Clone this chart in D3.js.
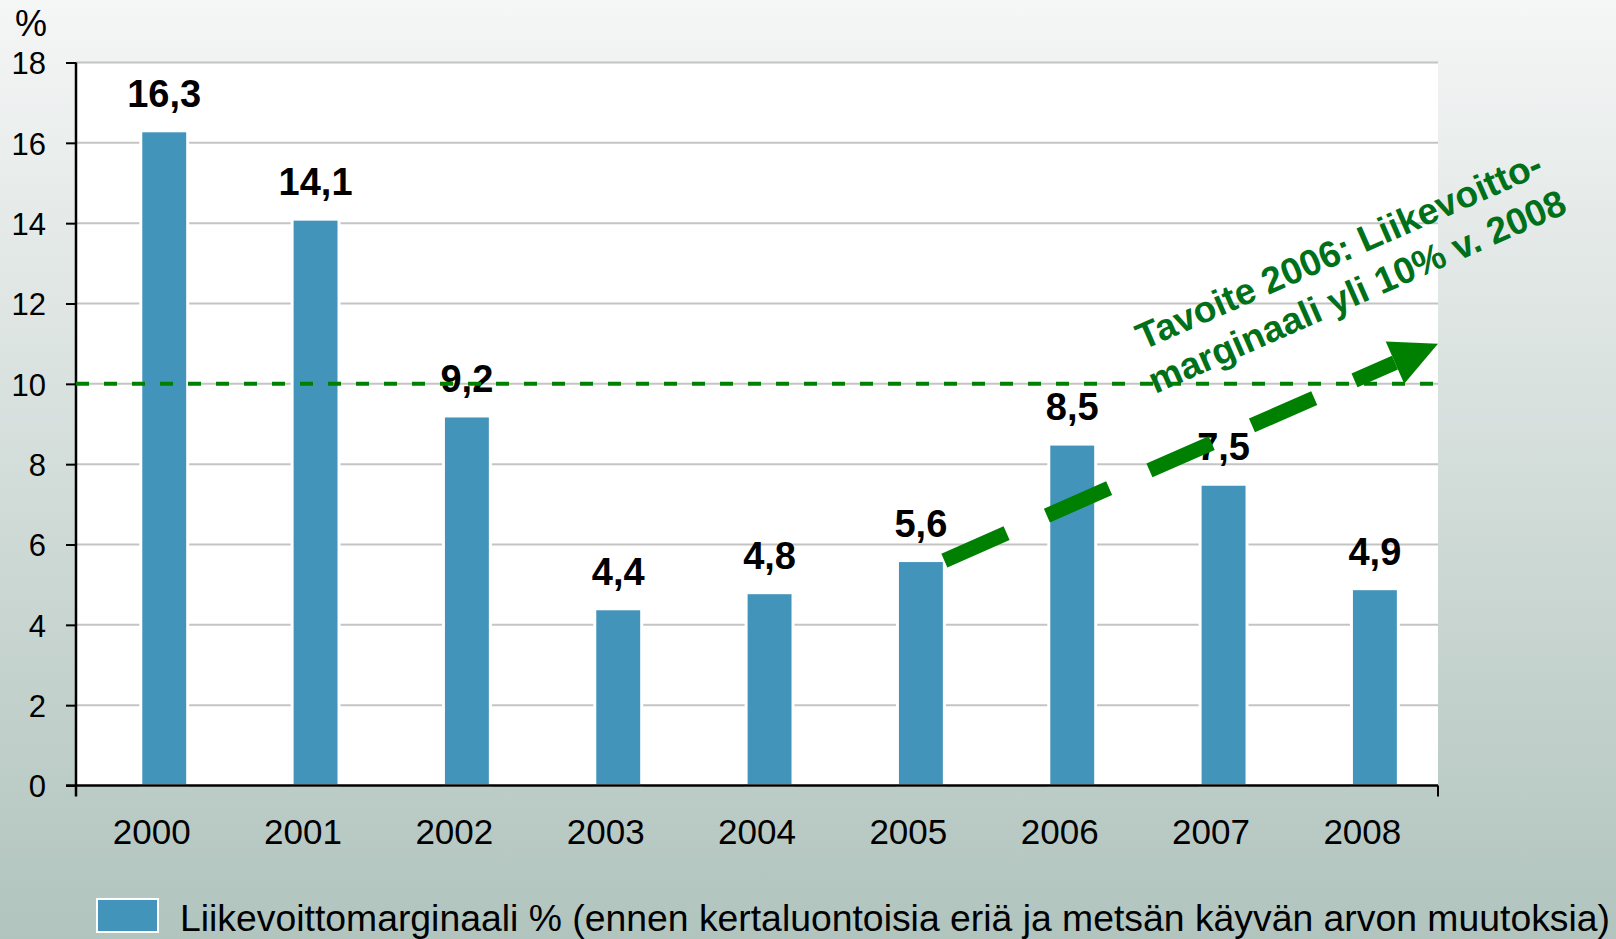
<!DOCTYPE html>
<html>
<head>
<meta charset="utf-8">
<script src="https://cdn.jsdelivr.net/npm/d3@7"></script>
<style>
  body { margin: 0; }
  svg { display: block; font-family: "Liberation Sans", Arial, sans-serif; }
</style>
</head>
<body>
<script>
var years = ["2000", "2001", "2002", "2003", "2004", "2005", "2006", "2007", "2008"],
    margins = [16.3, 14.1, 9.2, 4.4, 4.8, 5.6, 8.5, 7.5, 4.9],
    yTicks = [0, 2, 4, 6, 8, 10, 12, 14, 16, 18],
    targetValue = 10,
    arrowFrom = ["2005", 5.6],   // arrow starts at top of this bar
    arrowToValue = 11,           // and ends at the right edge at this level
    noteLines = ["Tavoite 2006: Liikevoitto-", "marginaali yli 10% v. 2008"],
    legendLabel = "Liikevoittomarginaali % (ennen kertaluontoisia eriä ja metsän käyvän arvon muutoksia)";

var svgWidth = 1616,
    svgHeight = 939,
    plotLeft = 76,
    plotRight = 1438,
    plotTop = 62.5,
    plotBottom = 785.5,
    barColor = "#4394bb",
    green = "#008000",
    fontFam = "'Liberation Sans', Arial, sans-serif";

var fmt = function(v) { return d3.format(".1f")(v).replace(".", ","); };

var svg = d3.select("body").append("svg")
    .attr("width", svgWidth)
    .attr("height", svgHeight);

// background gradient
var grad = svg.append("defs").append("linearGradient")
    .attr("id", "bg").attr("x1", 0).attr("y1", 0).attr("x2", 0).attr("y2", 1);
grad.append("stop").attr("offset", "0%").attr("stop-color", "#f5f6f6");
grad.append("stop").attr("offset", "100%").attr("stop-color", "#b1c4be");
svg.append("rect").attr("width", svgWidth).attr("height", svgHeight).attr("fill", "url(#bg)");

svg.append("rect")
    .attr("x", plotLeft).attr("y", plotTop)
    .attr("width", plotRight - plotLeft).attr("height", plotBottom - plotTop)
    .attr("fill", "#fff");

var x = d3.scaleBand().domain(years).range([plotLeft, plotRight]);
var y = d3.scaleLinear().domain([0, 18]).range([plotBottom, plotTop]);

var bw = x.bandwidth(),
    barWidth = bw * 0.31,
    barShift = bw * 0.083;
var barX = function(yr) { return x(yr) + bw / 2 + barShift - barWidth / 2; };

// gridlines
svg.append("g").selectAll("line")
    .data(yTicks.filter(function(d) { return d > 0; }))
    .enter().append("line")
        .attr("x1", plotLeft).attr("x2", plotRight)
        .attr("y1", function(d) { return y(d); })
        .attr("y2", function(d) { return y(d); })
        .style("stroke", "#c4c4c4")
        .style("stroke-width", 2);

// bars
svg.append("g").selectAll("rect")
    .data(years)
    .enter().append("rect")
        .attr("x", function(d) { return barX(d); })
        .attr("y", function(d, i) { return y(margins[i]); })
        .attr("width", barWidth)
        .attr("height", function(d, i) { return y(0) - y(margins[i]); })
        .style("fill", barColor)
        .style("stroke", "#fff")
        .style("stroke-width", 3);

// value labels
svg.append("g").selectAll("text")
    .data(years)
    .enter().append("text")
        .attr("x", function(d) { return barX(d) + barWidth / 2; })
        .attr("y", function(d, i) { return y(margins[i]) - 24; })
        .attr("text-anchor", "middle")
        .style("font-family", fontFam)
        .style("font-size", "38px")
        .style("font-weight", "bold")
        .style("fill", "#000")
        .text(function(d, i) { return fmt(margins[i]); });

// y axis
var yAxis = d3.axisLeft(y).tickValues(yTicks).tickSize(10).tickPadding(20);
var yg = svg.append("g").attr("transform", "translate(" + plotLeft + ",0)").call(yAxis)
    .attr("font-family", fontFam).attr("font-size", 30);
yg.select(".domain").remove();
yg.selectAll(".tick line").style("stroke", "#000").style("stroke-width", 2);
yg.selectAll(".tick text")
    .style("font-family", fontFam)
    .style("font-size", "31px").style("fill", "#000")
    .attr("dy", "0.36em");
svg.append("line")
    .attr("x1", plotLeft).attr("x2", plotLeft)
    .attr("y1", plotTop).attr("y2", plotBottom + 11)
    .style("stroke", "#000").style("stroke-width", 2.5);

// x axis
var xAxis = d3.axisBottom(x).tickSize(0).tickPadding(34);
var xg = svg.append("g").attr("transform", "translate(0," + plotBottom + ")").call(xAxis)
    .attr("font-family", fontFam).attr("font-size", 35);
xg.select(".domain").remove();
xg.selectAll(".tick text")
    .style("font-family", fontFam)
    .style("font-size", "35px").style("fill", "#000");
svg.append("line")
    .attr("x1", plotLeft - 10).attr("x2", plotRight)
    .attr("y1", plotBottom).attr("y2", plotBottom)
    .style("stroke", "#000").style("stroke-width", 2.5);
svg.append("line")
    .attr("x1", plotRight).attr("x2", plotRight)
    .attr("y1", plotBottom).attr("y2", plotBottom + 11)
    .style("stroke", "#000").style("stroke-width", 2);

// % unit label
svg.append("text").attr("x", 15).attr("y", 36)
    .style("font-family", fontFam)
    .style("font-size", "36px").text("%");

// target line at 10 %
svg.append("line")
    .attr("x1", plotLeft).attr("x2", plotRight)
    .attr("y1", y(targetValue)).attr("y2", y(targetValue))
    .style("stroke", green)
    .style("stroke-width", 4)
    .style("stroke-dasharray", "13,15");

// dashed arrow
var ax0 = barX(arrowFrom[0]) + barWidth,
    ay0 = y(arrowFrom[1]),
    ax1 = plotRight,
    ay1 = y(arrowToValue),
    alen = Math.sqrt((ax1 - ax0) * (ax1 - ax0) + (ay1 - ay0) * (ay1 - ay0)),
    angle = Math.atan2(ay1 - ay0, ax1 - ax0) * 180 / Math.PI,
    headLen = 47,
    headHalf = 23;

var arrow = svg.append("g")
    .attr("transform", "translate(" + ax0 + "," + ay0 + ") rotate(" + angle + ")");
arrow.append("line")
    .attr("x1", 0).attr("y1", 0)
    .attr("x2", alen - headLen).attr("y2", 0)
    .style("stroke", green)
    .style("stroke-width", 15)
    .style("stroke-dasharray", "68,44");
arrow.append("polygon")
    .attr("points", [[alen - headLen, -headHalf], [alen, 0], [alen - headLen, headHalf]].join(" "))
    .style("fill", green);

// rotated note
var note = svg.append("g")
    .attr("transform", "translate(1348,271) rotate(" + angle + ")");
note.selectAll("text")
    .data(noteLines)
    .enter().append("text")
        .attr("x", 0)
        .attr("y", function(d, i) { return -10 + i * 45; })
        .attr("text-anchor", "middle")
        .style("font-family", fontFam)
        .style("font-size", "37px")
        .style("font-weight", "bold")
        .style("fill", "#00701a")
        .text(function(d) { return d; });

// legend
svg.append("rect")
    .attr("x", 97).attr("y", 899)
    .attr("width", 61).attr("height", 33)
    .style("fill", barColor)
    .style("stroke", "#fff")
    .style("stroke-width", 2);
svg.append("text")
    .attr("x", 180).attr("y", 931)
    .attr("textLength", 1430)
    .attr("lengthAdjust", "spacingAndGlyphs")
    .style("font-family", fontFam)
    .style("font-size", "36px")
    .style("fill", "#000")
    .text(legendLabel);
</script>
</body>
</html>
